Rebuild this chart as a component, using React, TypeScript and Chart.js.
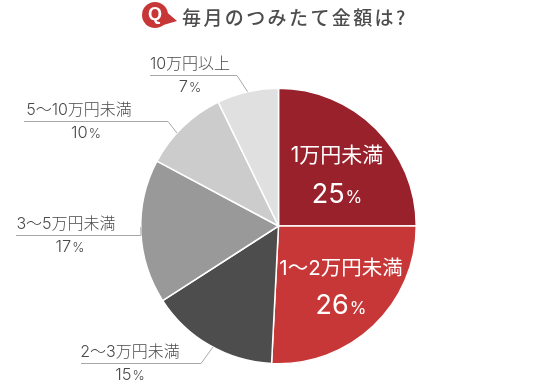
import React, { useEffect, useRef } from "react";
import { Chart, registerables } from "chart.js";

Chart.register(...registerables);

const TITLE = "毎月のつみたて金額は?";
const categories = ["1万円未満", "1〜2万円未満", "2〜3万円未満", "3〜5万円未満", "5〜10万円未満", "10万円以上"];
const shares = [25, 26, 15, 17, 10, 7];
const sliceValues = [25, 25.8, 15.1, 16.9, 10, 7.2];
const colors = ["#98212b", "#c83737", "#4d4d4d", "#999999", "#cccccc", "#e0e0e0"];

const FONT = 'Inter, "Noto Sans CJK JP", "Noto Sans", sans-serif';
const TITLE_FONT = '"Noto Sans CJK JP", "Noto Sans", sans-serif';

const insideLabels: Record<number, { x: number; nameY: number; valueY: number; nameSize: number }> = {
  0: { x: 337, nameY: 156, valueY: 193, nameSize: 21 },
  1: { x: 341, nameY: 269, valueY: 304, nameSize: 20.5 },
};
const callouts: Record<number, { x0: number; x1: number; y: number; frac: number; textX: number; valueX: number }> = {
  2: { x0: 81, x1: 201, y: 363, frac: 0.47, textX: 130, valueX: 130 },
  3: { x0: 16, x1: 141, y: 235, frac: 0.53, textX: 66, valueX: 70 },
  4: { x0: 24, x1: 168, y: 121, frac: 0.4, textX: 79, valueX: 86 },
  5: { x0: 150, x1: 237, y: 75, frac: 0.5, textX: 190, valueX: 190 },
};

function drawPct(ctx: CanvasRenderingContext2D, value: number, cx: number, y: number, big: number, small: number, color: string, weight: number) {
  ctx.fillStyle = color;
  ctx.textBaseline = "alphabetic";
  ctx.textAlign = "left";
  const num = String(value);
  ctx.font = `${weight} ${big}px ${FONT}`;
  const w1 = ctx.measureText(num).width;
  ctx.font = `${weight} ${small}px ${FONT}`;
  const w2 = ctx.measureText("%").width;
  const left = cx - (w1 + w2 + 1) / 2;
  const base = y + big * 0.36;
  ctx.font = `${weight} ${big}px ${FONT}`;
  ctx.fillText(num, left, base);
  ctx.font = `${weight} ${small}px ${FONT}`;
  ctx.fillText("%", left + w1 + 1, base);
}

const annotate = {
  id: "annotate",
  afterDatasetsDraw(chart: any) {
    const { ctx } = chart;
    const arcs = chart.getDatasetMeta(0).data;
    ctx.save();
    arcs.forEach((arc: any, i: number) => {
      const inside = insideLabels[i];
      if (inside) {
        ctx.fillStyle = "#ffffff";
        ctx.textAlign = "center";
        ctx.textBaseline = "middle";
        ctx.font = `400 ${inside.nameSize}px ${FONT}`;
        ctx.fillText(categories[i], inside.x, inside.nameY);
        drawPct(ctx, shares[i], inside.x, inside.valueY, 27, 17, "#ffffff", 400);
        return;
      }
      const c = callouts[i];
      const a = arc.startAngle + (arc.endAngle - arc.startAngle) * c.frac;
      const ex = arc.x + Math.cos(a) * arc.outerRadius;
      const ey = arc.y + Math.sin(a) * arc.outerRadius;
      ctx.strokeStyle = "#a8a8a8";
      ctx.lineWidth = 1;
      ctx.beginPath();
      ctx.moveTo(c.x0, c.y + 0.5);
      ctx.lineTo(c.x1, c.y + 0.5);
      ctx.lineTo(ex, ey);
      ctx.stroke();
      ctx.fillStyle = "#4a4a4a";
      ctx.textAlign = "center";
      ctx.textBaseline = "middle";
      ctx.font = `300 16px ${FONT}`;
      ctx.fillText(categories[i], c.textX, c.y - 11);
      drawPct(ctx, shares[i], c.valueX, c.y + 11, 16.5, 13, "#4a4a4a", 300);
    });

    // Title badge
    ctx.fillStyle = "#c83737";
    ctx.beginPath();
    ctx.arc(155, 15, 13, 0, Math.PI * 2);
    ctx.fill();
    ctx.beginPath();
    ctx.moveTo(162, 8);
    ctx.lineTo(177, 21);
    ctx.lineTo(160, 26);
    ctx.closePath();
    ctx.fill();
    ctx.fillStyle = "#ffffff";
    ctx.textAlign = "center";
    ctx.textBaseline = "middle";
    ctx.font = `700 18px "Liberation Sans", sans-serif`;
    ctx.fillText("Q", 155, 15.5);

    ctx.fillStyle = "#4d4d4d";
    ctx.textAlign = "left";
    ctx.font = `500 19px ${TITLE_FONT}`;
    (ctx as any).letterSpacing = "2.4px";
    ctx.fillText(TITLE, 182, 18);
    (ctx as any).letterSpacing = "0px";
    ctx.restore();
  },
};

export default function App() {
  const ref = useRef<HTMLCanvasElement>(null);
  useEffect(() => {
    document.body.style.margin = "0";
    const chart = new Chart(ref.current!, {
      type: "pie",
      data: {
        labels: categories,
        datasets: [{ data: sliceValues, backgroundColor: colors, borderColor: "#ffffff", borderWidth: 1.5, hoverOffset: 0 }],
      },
      options: {
        responsive: false,
        animation: false,
        layout: { padding: { left: 140, right: 139, top: 87.5, bottom: 23.5 } },
        plugins: { legend: { display: false }, tooltip: { enabled: false }, title: { display: false } },
      },
      plugins: [annotate],
    } as any);
    return () => chart.destroy();
  }, []);
  return <canvas ref={ref} width={556} height={388} style={{ display: "block" }} />;
}
